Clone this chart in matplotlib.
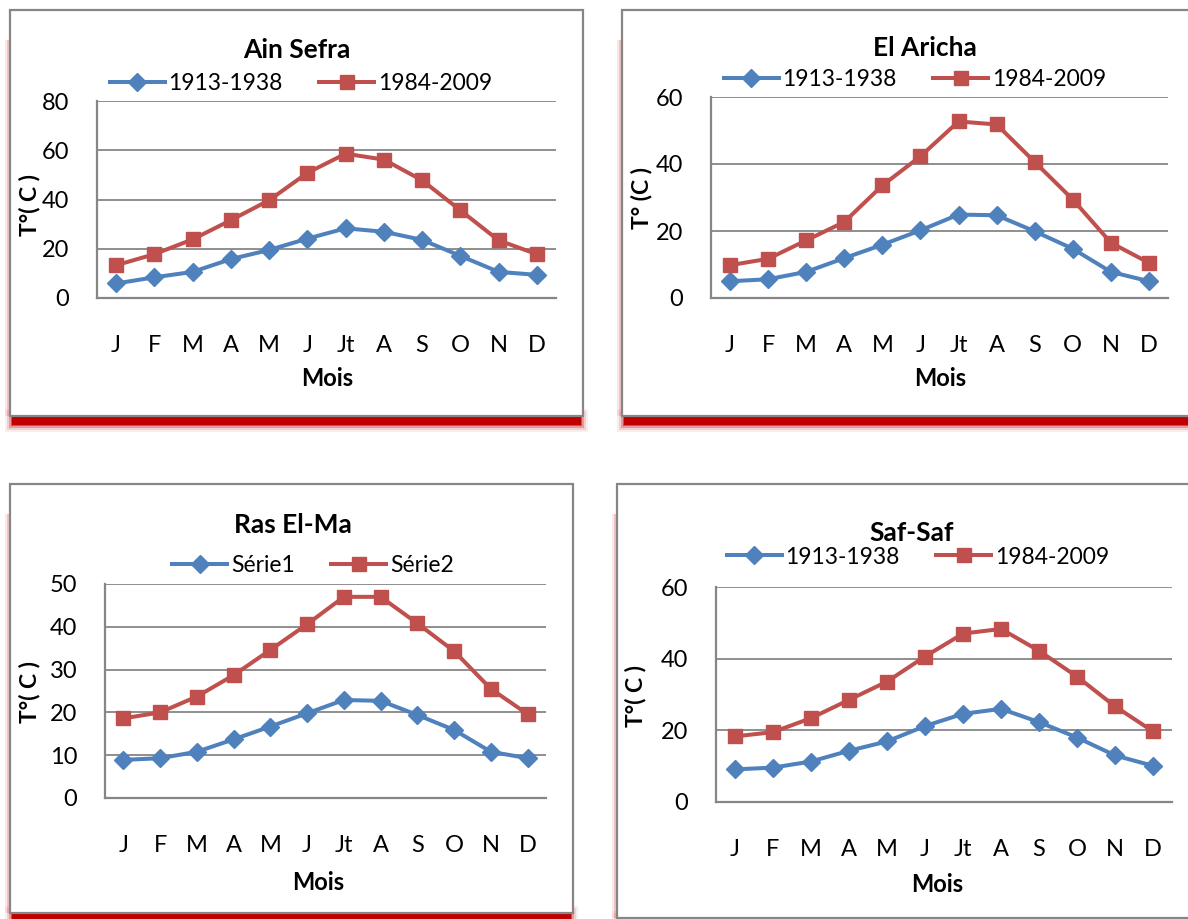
import matplotlib
matplotlib.use('Agg')
import matplotlib.pyplot as plt
from matplotlib.patches import Rectangle
import numpy as np

plt.rcParams['font.family'] = ['Lato', 'DejaVu Sans']

mois = ['J', 'F', 'M', 'A', 'M', 'J', 'Jt', 'A', 'S', 'O', 'N', 'D']

# Ain Sefra
ain_sefra_1 = [5.9, 8.4, 10.6, 15.8, 19.5, 24.1, 28.3, 26.9, 23.6, 17.1, 10.6, 9.4]
ain_sefra_2 = [13.3, 17.8, 23.8, 31.6, 39.7, 50.8, 58.6, 56.2, 47.8, 35.6, 23.4, 17.8]
# El Aricha
el_aricha_1 = [5.0, 5.6, 7.8, 11.9, 15.9, 20.2, 24.9, 24.7, 19.9, 14.7, 7.8, 5.0]
el_aricha_2 = [9.8, 11.7, 17.2, 22.7, 33.6, 42.3, 52.7, 51.8, 40.6, 29.4, 16.5, 10.5]
# Ras El-Ma
ras_elma_1 = [8.9, 9.3, 10.8, 13.7, 16.7, 19.8, 22.9, 22.7, 19.4, 15.9, 10.8, 9.3]
ras_elma_2 = [18.6, 20.0, 23.7, 28.7, 34.6, 40.6, 47.0, 47.0, 40.8, 34.3, 25.5, 19.6]
# Saf-Saf
saf_saf_1 = [9.1, 9.6, 11.3, 14.3, 16.9, 21.2, 24.6, 26.0, 22.3, 18.0, 13.0, 10.1]
saf_saf_2 = [18.3, 19.5, 23.4, 28.5, 33.6, 40.6, 47.0, 48.3, 42.2, 35.0, 26.7, 19.7]

W, H = 1188, 919
BLEU = '#4F81BD'
ROUGE = '#C0504D'
GRIS = '#868686'

fig = plt.figure(figsize=(W / 100, H / 100), dpi=100)


def fx(x):
    return x / W


def fy(y):
    return 1 - y / H


def cadre(x0, y0, x1, y1):
    # ombre rouge sous le cadre (dégradé)
    for d, a in [(7, 0.07), (5, 0.12), (3, 0.25), (1, 0.5)]:
        fig.add_artist(Rectangle((fx(x0 + 2 - d), fy(y1 + 9 + d)), fx(x1 - x0 - 4 + 2 * d), (9 + 2 * d) / H,
                                 transform=fig.transFigure, facecolor='#C00000', edgecolor='none',
                                 alpha=a, zorder=0))
    fig.add_artist(Rectangle((fx(x0 + 2), fy(y1 + 9)), fx(x1 - x0 - 4), 9 / H,
                             transform=fig.transFigure, facecolor='#C00000', edgecolor='none', zorder=0))
    # lueur rose à gauche
    for d, a in [(5, 0.15), (3, 0.3)]:
        fig.add_artist(Rectangle((fx(x0 - d), fy(y1)), fx(d), (y1 - y0 - 30) / H,
                                 transform=fig.transFigure, facecolor='#E07070', edgecolor='none',
                                 alpha=a, zorder=0))
    fig.add_artist(Rectangle((fx(x0), fy(y1)), fx(x1 - x0), (y1 - y0) / H,
                             transform=fig.transFigure, facecolor='white', edgecolor=GRIS,
                             linewidth=1.6, zorder=1))


def panneau(plot, box, titre, ty, ly, s1, s2, ymax, pas, noms, ylab, xlab):
    left, top, right, bottom = plot
    cadre(*box)
    ax = fig.add_axes([fx(left), fy(bottom), fx(right - left), (bottom - top) / H], zorder=2)
    x = np.arange(len(mois))
    ax.plot(x, s1, color=BLEU, lw=2.9, marker='D', ms=9.5, label=noms[0])
    ax.plot(x, s2, color=ROUGE, lw=2.9, marker='s', ms=10, label=noms[1])
    ax.set_xlim(-0.5, len(mois) - 0.5)
    ax.set_ylim(0, ymax)
    ax.set_yticks(np.arange(0, ymax + 1, pas))
    ax.set_xticks(x)
    ax.set_xticklabels(mois)
    ax.tick_params(axis='both', length=0, labelsize=17, colors='black')
    ax.tick_params(axis='x', pad=27)
    ax.tick_params(axis='y', pad=20)
    ax.grid(axis='y', color=GRIS, lw=1.3)
    ax.set_axisbelow(True)
    for s in ['top', 'right']:
        ax.spines[s].set_visible(False)
    for s in ['left', 'bottom']:
        ax.spines[s].set_color(GRIS)
        ax.spines[s].set_linewidth(1.6)
    fig.text(fx(titre[1]), fy(ty), titre[0], ha='center', va='center',
             fontsize=19, fontweight='bold')
    ax.legend(loc='center', bbox_to_anchor=(fx(titre[2]), fy(ly)), bbox_transform=fig.transFigure,
              ncol=2, frameon=False, fontsize=16.5, handlelength=2.4, handletextpad=0.15,
              columnspacing=1.6, borderaxespad=0)
    fig.text(fx(xlab[0]), fy(xlab[1]), 'Mois', ha='center', va='center', fontsize=17, fontweight='bold')
    fig.text(fx(ylab[1]), fy(ylab[2]), ylab[0], ha='center', va='center', rotation=90,
             fontsize=16.5, fontweight='bold')
    return ax


panneau((97, 101, 556, 298), (10, 10, 583, 416), ('Ain Sefra', 297, 301), 50, 84,
        ain_sefra_1, ain_sefra_2, 80, 20, ['1913-1938', '1984-2009'],
        ('T°( C )', 30, 205), (327, 378))
panneau((711, 97, 1168, 298), (622, 10, 1194, 416), ('El Aricha', 925, 915), 48, 80,
        el_aricha_1, el_aricha_2, 60, 20, ['1913-1938', '1984-2009'],
        ('T° (C )', 642, 198), (940, 378))
panneau((105, 584, 546, 798), (10, 484, 573, 913), ('Ras El-Ma', 293, 313), 525, 566,
        ras_elma_1, ras_elma_2, 50, 10, ['Série1', 'Série2'],
        ('T°( C )', 30, 692), (318, 883))
panneau((716, 587, 1172, 802), (617, 484, 1194, 918), ('Saf-Saf', 912, 918), 533, 557,
        saf_saf_1, saf_saf_2, 60, 20, ['1913-1938', '1984-2009'],
        ('T°( C )', 636, 696), (937, 885))

fig.savefig('out.png', dpi=100)
